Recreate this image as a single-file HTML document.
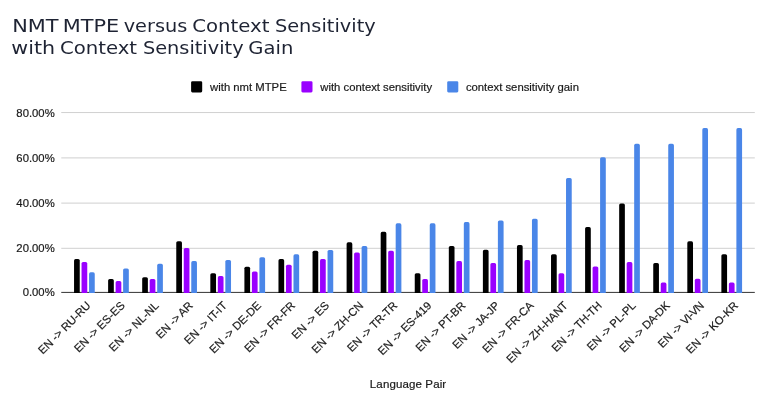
<!DOCTYPE html>
<html><head><meta charset="utf-8"><title>NMT MTPE versus Context Sensitivity</title>
<style>
html,body{margin:0;padding:0;background:#fff;}
svg{display:block}
.t{font-family:"DejaVu Sans","Liberation Sans",sans-serif;font-size:18.2px;fill:#1e2333}
.a{font-family:"Liberation Sans",Arial,sans-serif;font-size:11.3px;fill:#1a1a1a;stroke:#1a1a1a;stroke-width:0.2px}
</style></head><body>
<svg width="775" height="407" viewBox="0 0 775 407">
<rect width="775" height="407" fill="#fff"/>
<text class="t" y="32.4"><tspan x="12.2" textLength="46.4" lengthAdjust="spacingAndGlyphs">NMT</tspan> <tspan x="62.8" textLength="56.5" lengthAdjust="spacingAndGlyphs">MTPE</tspan> <tspan x="123.7" textLength="63.6" lengthAdjust="spacingAndGlyphs">versus</tspan> <tspan x="192.3" textLength="77.2" lengthAdjust="spacingAndGlyphs">Context</tspan> <tspan x="274.9" textLength="100.8" lengthAdjust="spacingAndGlyphs">Sensitivity</tspan></text>
<text class="t" y="54.4"><tspan x="11.3" textLength="43.8" lengthAdjust="spacingAndGlyphs">with</tspan> <tspan x="59.9" textLength="77.2" lengthAdjust="spacingAndGlyphs">Context</tspan> <tspan x="142.9" textLength="100.7" lengthAdjust="spacingAndGlyphs">Sensitivity</tspan> <tspan x="248.3" textLength="45.0" lengthAdjust="spacingAndGlyphs">Gain</tspan></text>
<rect x="61.25" y="112.05" width="693.55" height="1" fill="#d0d0d0"/>
<rect x="61.25" y="157.40" width="693.55" height="1" fill="#d0d0d0"/>
<rect x="61.25" y="202.60" width="693.55" height="1" fill="#d0d0d0"/>
<rect x="61.25" y="247.80" width="693.55" height="1" fill="#d0d0d0"/>
<text class="a" x="54.7" y="116.55" text-anchor="end">80.00%</text>
<text class="a" x="54.7" y="161.90" text-anchor="end">60.00%</text>
<text class="a" x="54.7" y="207.10" text-anchor="end">40.00%</text>
<text class="a" x="54.7" y="252.30" text-anchor="end">20.00%</text>
<text class="a" x="54.7" y="296.40" text-anchor="end">0.00%</text>
<rect x="61.25" y="291.9" width="693.55" height="1" fill="#333"/>
<path fill="#000000" d="M74.05 292.9V260.56a1.6 1.6 0 0 1 1.6 -1.6h2.50a1.6 1.6 0 0 1 1.6 1.6V292.9z"/>
<path fill="#9900ff" d="M81.55 292.9V263.60a1.6 1.6 0 0 1 1.6 -1.6h2.50a1.6 1.6 0 0 1 1.6 1.6V292.9z"/>
<path fill="#4a86e8" d="M89.05 292.9V273.93a1.6 1.6 0 0 1 1.6 -1.6h2.50a1.6 1.6 0 0 1 1.6 1.6V292.9z"/>
<path fill="#000000" d="M108.12 292.9V280.60a1.6 1.6 0 0 1 1.6 -1.6h2.50a1.6 1.6 0 0 1 1.6 1.6V292.9z"/>
<path fill="#9900ff" d="M115.62 292.9V282.60a1.6 1.6 0 0 1 1.6 -1.6h2.50a1.6 1.6 0 0 1 1.6 1.6V292.9z"/>
<path fill="#4a86e8" d="M123.12 292.9V270.10a1.6 1.6 0 0 1 1.6 -1.6h2.50a1.6 1.6 0 0 1 1.6 1.6V292.9z"/>
<path fill="#000000" d="M142.19 292.9V278.80a1.6 1.6 0 0 1 1.6 -1.6h2.50a1.6 1.6 0 0 1 1.6 1.6V292.9z"/>
<path fill="#9900ff" d="M149.69 292.9V280.60a1.6 1.6 0 0 1 1.6 -1.6h2.50a1.6 1.6 0 0 1 1.6 1.6V292.9z"/>
<path fill="#4a86e8" d="M157.19 292.9V265.40a1.6 1.6 0 0 1 1.6 -1.6h2.50a1.6 1.6 0 0 1 1.6 1.6V292.9z"/>
<path fill="#000000" d="M176.26 292.9V242.86a1.6 1.6 0 0 1 1.6 -1.6h2.50a1.6 1.6 0 0 1 1.6 1.6V292.9z"/>
<path fill="#9900ff" d="M183.76 292.9V249.50a1.6 1.6 0 0 1 1.6 -1.6h2.50a1.6 1.6 0 0 1 1.6 1.6V292.9z"/>
<path fill="#4a86e8" d="M191.26 292.9V262.70a1.6 1.6 0 0 1 1.6 -1.6h2.50a1.6 1.6 0 0 1 1.6 1.6V292.9z"/>
<path fill="#000000" d="M210.33 292.9V274.80a1.6 1.6 0 0 1 1.6 -1.6h2.50a1.6 1.6 0 0 1 1.6 1.6V292.9z"/>
<path fill="#9900ff" d="M217.83 292.9V277.70a1.6 1.6 0 0 1 1.6 -1.6h2.50a1.6 1.6 0 0 1 1.6 1.6V292.9z"/>
<path fill="#4a86e8" d="M225.33 292.9V261.60a1.6 1.6 0 0 1 1.6 -1.6h2.50a1.6 1.6 0 0 1 1.6 1.6V292.9z"/>
<path fill="#000000" d="M244.40 292.9V268.30a1.6 1.6 0 0 1 1.6 -1.6h2.50a1.6 1.6 0 0 1 1.6 1.6V292.9z"/>
<path fill="#9900ff" d="M251.90 292.9V273.00a1.6 1.6 0 0 1 1.6 -1.6h2.50a1.6 1.6 0 0 1 1.6 1.6V292.9z"/>
<path fill="#4a86e8" d="M259.40 292.9V258.75a1.6 1.6 0 0 1 1.6 -1.6h2.50a1.6 1.6 0 0 1 1.6 1.6V292.9z"/>
<path fill="#000000" d="M278.47 292.9V260.70a1.6 1.6 0 0 1 1.6 -1.6h2.50a1.6 1.6 0 0 1 1.6 1.6V292.9z"/>
<path fill="#9900ff" d="M285.97 292.9V266.30a1.6 1.6 0 0 1 1.6 -1.6h2.50a1.6 1.6 0 0 1 1.6 1.6V292.9z"/>
<path fill="#4a86e8" d="M293.47 292.9V255.90a1.6 1.6 0 0 1 1.6 -1.6h2.50a1.6 1.6 0 0 1 1.6 1.6V292.9z"/>
<path fill="#000000" d="M312.54 292.9V252.25a1.6 1.6 0 0 1 1.6 -1.6h2.50a1.6 1.6 0 0 1 1.6 1.6V292.9z"/>
<path fill="#9900ff" d="M320.04 292.9V260.56a1.6 1.6 0 0 1 1.6 -1.6h2.50a1.6 1.6 0 0 1 1.6 1.6V292.9z"/>
<path fill="#4a86e8" d="M327.54 292.9V251.50a1.6 1.6 0 0 1 1.6 -1.6h2.50a1.6 1.6 0 0 1 1.6 1.6V292.9z"/>
<path fill="#000000" d="M346.61 292.9V243.94a1.6 1.6 0 0 1 1.6 -1.6h2.50a1.6 1.6 0 0 1 1.6 1.6V292.9z"/>
<path fill="#9900ff" d="M354.11 292.9V254.06a1.6 1.6 0 0 1 1.6 -1.6h2.50a1.6 1.6 0 0 1 1.6 1.6V292.9z"/>
<path fill="#4a86e8" d="M361.61 292.9V247.55a1.6 1.6 0 0 1 1.6 -1.6h2.50a1.6 1.6 0 0 1 1.6 1.6V292.9z"/>
<path fill="#000000" d="M380.68 292.9V233.46a1.6 1.6 0 0 1 1.6 -1.6h2.50a1.6 1.6 0 0 1 1.6 1.6V292.9z"/>
<path fill="#9900ff" d="M388.18 292.9V252.25a1.6 1.6 0 0 1 1.6 -1.6h2.50a1.6 1.6 0 0 1 1.6 1.6V292.9z"/>
<path fill="#4a86e8" d="M395.68 292.9V224.95a1.6 1.6 0 0 1 1.6 -1.6h2.50a1.6 1.6 0 0 1 1.6 1.6V292.9z"/>
<path fill="#000000" d="M414.75 292.9V274.80a1.6 1.6 0 0 1 1.6 -1.6h2.50a1.6 1.6 0 0 1 1.6 1.6V292.9z"/>
<path fill="#9900ff" d="M422.25 292.9V280.60a1.6 1.6 0 0 1 1.6 -1.6h2.50a1.6 1.6 0 0 1 1.6 1.6V292.9z"/>
<path fill="#4a86e8" d="M429.75 292.9V224.95a1.6 1.6 0 0 1 1.6 -1.6h2.50a1.6 1.6 0 0 1 1.6 1.6V292.9z"/>
<path fill="#000000" d="M448.82 292.9V247.55a1.6 1.6 0 0 1 1.6 -1.6h2.50a1.6 1.6 0 0 1 1.6 1.6V292.9z"/>
<path fill="#9900ff" d="M456.32 292.9V262.70a1.6 1.6 0 0 1 1.6 -1.6h2.50a1.6 1.6 0 0 1 1.6 1.6V292.9z"/>
<path fill="#4a86e8" d="M463.82 292.9V223.70a1.6 1.6 0 0 1 1.6 -1.6h2.50a1.6 1.6 0 0 1 1.6 1.6V292.9z"/>
<path fill="#000000" d="M482.89 292.9V251.35a1.6 1.6 0 0 1 1.6 -1.6h2.50a1.6 1.6 0 0 1 1.6 1.6V292.9z"/>
<path fill="#9900ff" d="M490.39 292.9V264.50a1.6 1.6 0 0 1 1.6 -1.6h2.50a1.6 1.6 0 0 1 1.6 1.6V292.9z"/>
<path fill="#4a86e8" d="M497.89 292.9V222.05a1.6 1.6 0 0 1 1.6 -1.6h2.50a1.6 1.6 0 0 1 1.6 1.6V292.9z"/>
<path fill="#000000" d="M516.96 292.9V246.65a1.6 1.6 0 0 1 1.6 -1.6h2.50a1.6 1.6 0 0 1 1.6 1.6V292.9z"/>
<path fill="#9900ff" d="M524.46 292.9V261.64a1.6 1.6 0 0 1 1.6 -1.6h2.50a1.6 1.6 0 0 1 1.6 1.6V292.9z"/>
<path fill="#4a86e8" d="M531.96 292.9V220.24a1.6 1.6 0 0 1 1.6 -1.6h2.50a1.6 1.6 0 0 1 1.6 1.6V292.9z"/>
<path fill="#000000" d="M551.03 292.9V255.86a1.6 1.6 0 0 1 1.6 -1.6h2.50a1.6 1.6 0 0 1 1.6 1.6V292.9z"/>
<path fill="#9900ff" d="M558.53 292.9V274.80a1.6 1.6 0 0 1 1.6 -1.6h2.50a1.6 1.6 0 0 1 1.6 1.6V292.9z"/>
<path fill="#4a86e8" d="M566.03 292.9V179.60a1.6 1.6 0 0 1 1.6 -1.6h2.50a1.6 1.6 0 0 1 1.6 1.6V292.9z"/>
<path fill="#000000" d="M585.10 292.9V228.70a1.6 1.6 0 0 1 1.6 -1.6h2.50a1.6 1.6 0 0 1 1.6 1.6V292.9z"/>
<path fill="#9900ff" d="M592.60 292.9V268.10a1.6 1.6 0 0 1 1.6 -1.6h2.50a1.6 1.6 0 0 1 1.6 1.6V292.9z"/>
<path fill="#4a86e8" d="M600.10 292.9V158.80a1.6 1.6 0 0 1 1.6 -1.6h2.50a1.6 1.6 0 0 1 1.6 1.6V292.9z"/>
<path fill="#000000" d="M619.17 292.9V205.00a1.6 1.6 0 0 1 1.6 -1.6h2.50a1.6 1.6 0 0 1 1.6 1.6V292.9z"/>
<path fill="#9900ff" d="M626.67 292.9V263.63a1.6 1.6 0 0 1 1.6 -1.6h2.50a1.6 1.6 0 0 1 1.6 1.6V292.9z"/>
<path fill="#4a86e8" d="M634.17 292.9V145.44a1.6 1.6 0 0 1 1.6 -1.6h2.50a1.6 1.6 0 0 1 1.6 1.6V292.9z"/>
<path fill="#000000" d="M653.24 292.9V264.53a1.6 1.6 0 0 1 1.6 -1.6h2.50a1.6 1.6 0 0 1 1.6 1.6V292.9z"/>
<path fill="#9900ff" d="M660.74 292.9V284.20a1.6 1.6 0 0 1 1.6 -1.6h2.50a1.6 1.6 0 0 1 1.6 1.6V292.9z"/>
<path fill="#4a86e8" d="M668.24 292.9V145.44a1.6 1.6 0 0 1 1.6 -1.6h2.50a1.6 1.6 0 0 1 1.6 1.6V292.9z"/>
<path fill="#000000" d="M687.31 292.9V242.90a1.6 1.6 0 0 1 1.6 -1.6h2.50a1.6 1.6 0 0 1 1.6 1.6V292.9z"/>
<path fill="#9900ff" d="M694.81 292.9V280.43a1.6 1.6 0 0 1 1.6 -1.6h2.50a1.6 1.6 0 0 1 1.6 1.6V292.9z"/>
<path fill="#4a86e8" d="M702.31 292.9V129.70a1.6 1.6 0 0 1 1.6 -1.6h2.50a1.6 1.6 0 0 1 1.6 1.6V292.9z"/>
<path fill="#000000" d="M721.38 292.9V255.86a1.6 1.6 0 0 1 1.6 -1.6h2.50a1.6 1.6 0 0 1 1.6 1.6V292.9z"/>
<path fill="#9900ff" d="M728.88 292.9V284.20a1.6 1.6 0 0 1 1.6 -1.6h2.50a1.6 1.6 0 0 1 1.6 1.6V292.9z"/>
<path fill="#4a86e8" d="M736.38 292.9V129.70a1.6 1.6 0 0 1 1.6 -1.6h2.50a1.6 1.6 0 0 1 1.6 1.6V292.9z"/>
<rect x="191.1" y="81.2" width="11.1" height="11.2" rx="1.3" fill="#000000"/>
<text class="a" x="210.1" y="90.6">with nmt MTPE</text>
<rect x="301.4" y="81.2" width="11.1" height="11.2" rx="1.3" fill="#9900ff"/>
<text class="a" x="320.3" y="90.6">with context sensitivity</text>
<rect x="447.2" y="81.2" width="11.1" height="11.2" rx="1.3" fill="#4a86e8"/>
<text class="a" x="465.9" y="90.6">context sensitivity gain</text>
<text class="a" text-anchor="end" transform="translate(91.40 306.2) rotate(-45)">EN -&gt; RU-RU</text>
<text class="a" text-anchor="end" transform="translate(125.47 306.2) rotate(-45)">EN -&gt; ES-ES</text>
<text class="a" text-anchor="end" transform="translate(159.54 306.2) rotate(-45)">EN -&gt; NL-NL</text>
<text class="a" text-anchor="end" transform="translate(193.61 306.2) rotate(-45)">EN -&gt; <tspan dx="-0.6">A</tspan>R</text>
<text class="a" text-anchor="end" transform="translate(227.68 306.2) rotate(-45)">EN -&gt; IT<tspan dx="-0.6">-</tspan>IT</text>
<text class="a" text-anchor="end" transform="translate(261.75 306.2) rotate(-45)">EN -&gt; DE-DE</text>
<text class="a" text-anchor="end" transform="translate(295.82 306.2) rotate(-45)">EN -&gt; FR-FR</text>
<text class="a" text-anchor="end" transform="translate(329.89 306.2) rotate(-45)">EN -&gt; ES</text>
<text class="a" text-anchor="end" transform="translate(363.96 306.2) rotate(-45)">EN -&gt; ZH-CN</text>
<text class="a" text-anchor="end" transform="translate(398.03 306.2) rotate(-45)">EN -&gt; TR-<tspan dx="-0.6">T</tspan>R</text>
<text class="a" text-anchor="end" transform="translate(432.10 306.2) rotate(-45)">EN -&gt; ES-419</text>
<text class="a" text-anchor="end" transform="translate(466.17 306.2) rotate(-45)">EN -&gt; PT<tspan dx="-0.6">-</tspan>BR</text>
<text class="a" text-anchor="end" transform="translate(500.24 306.2) rotate(-45)">EN -&gt; J<tspan dx="-0.3">A</tspan><tspan dx="-0.6">-</tspan><tspan dx="-0.3">J</tspan>P</text>
<text class="a" text-anchor="end" transform="translate(534.31 306.2) rotate(-45)">EN -&gt; FR-CA</text>
<text class="a" text-anchor="end" transform="translate(568.38 306.2) rotate(-45)">EN -&gt; ZH-H<tspan dx="-0.3">A</tspan>N<tspan dx="-0.4">T</tspan></text>
<text class="a" text-anchor="end" transform="translate(602.45 306.2) rotate(-45)">EN -&gt; TH-<tspan dx="-0.6">T</tspan>H</text>
<text class="a" text-anchor="end" transform="translate(636.52 306.2) rotate(-45)">EN -&gt; PL-PL</text>
<text class="a" text-anchor="end" transform="translate(670.59 306.2) rotate(-45)">EN -&gt; D<tspan dx="-0.5">A</tspan><tspan dx="-0.7">-</tspan><tspan dx="-0.3">D</tspan>K</text>
<text class="a" text-anchor="end" transform="translate(704.66 306.2) rotate(-45)">EN -&gt; V<tspan dx="-0.6">I</tspan><tspan dx="-0.5">-</tspan><tspan dx="-1.0">V</tspan><tspan dx="-0.7">N</tspan></text>
<text class="a" text-anchor="end" transform="translate(738.73 306.2) rotate(-45)">EN -&gt; KO-KR</text>
<text class="a" x="408.1" y="387.9" text-anchor="middle" style="font-size:11.5px;letter-spacing:0.13px">Language Pair</text>
</svg></body></html>
